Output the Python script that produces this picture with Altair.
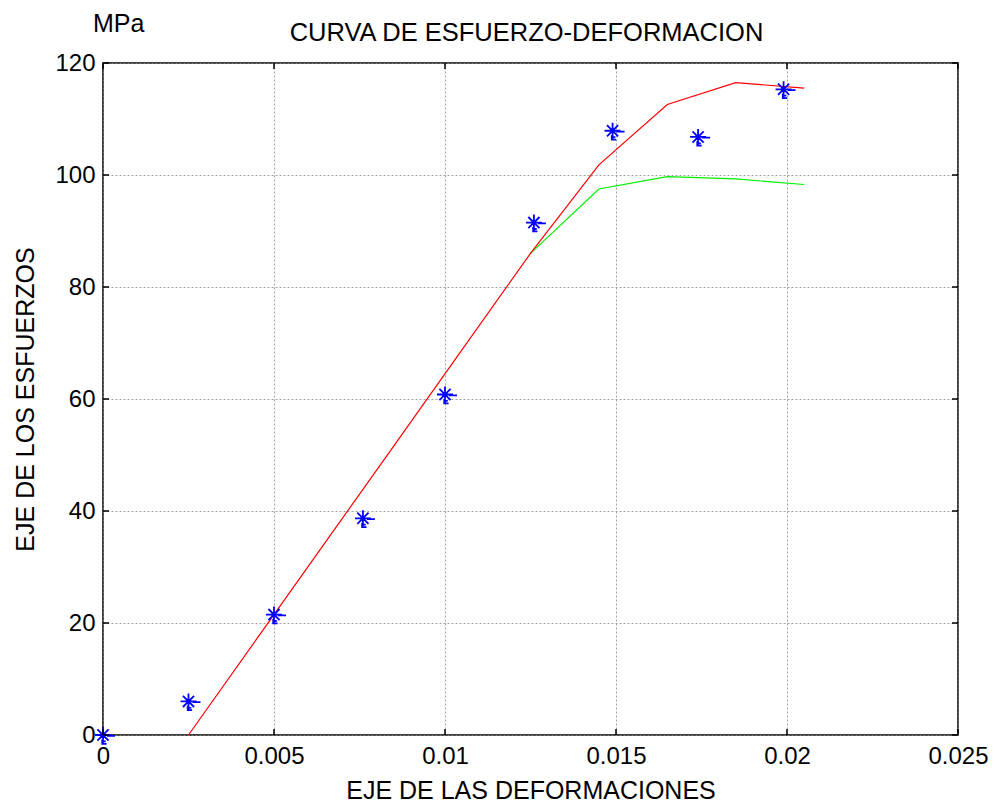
import altair as alt
import pandas as pd

# measured points (blue asterisks)
pt_strain = [0.0, 0.0025, 0.005, 0.0076, 0.01, 0.0126, 0.0149, 0.0174, 0.0199]
pt_stress = [0.0, 6.0, 21.5, 38.7, 60.8, 91.5, 107.9, 106.8, 115.3]

# red model curve
red_strain = [0.0025, 0.0045, 0.0065, 0.0085, 0.0105, 0.0125, 0.0145, 0.0165, 0.0185, 0.0205]
red_stress = [0.0, 17.2, 34.4, 51.6, 68.8, 86.0, 101.8, 112.6, 116.5, 115.5]

# green model curve
green_strain = [0.0125, 0.0145, 0.0165, 0.0185, 0.0205]
green_stress = [86.0, 97.5, 99.7, 99.3, 98.3]

x_ticks = [0, 0.005, 0.01, 0.015, 0.02, 0.025]
y_ticks = [0, 20, 40, 60, 80, 100, 120]

W, H = 855, 672
FONT = "Liberation Sans"

pts = pd.DataFrame({"x": pt_strain, "y": pt_stress})
red = pd.DataFrame({"x": red_strain, "y": red_stress})
green = pd.DataFrame({"x": green_strain, "y": green_stress})
xt = pd.DataFrame({"x": x_ticks})
yt = pd.DataFrame({"y": y_ticks})

xscale = alt.Scale(domain=[0, 0.025], nice=False, zero=False)
yscale = alt.Scale(domain=[0, 120], nice=False, zero=False)

xaxis = alt.Axis(values=x_ticks, format="~g", title="EJE DE LAS DEFORMACIONES",
                 grid=True, ticks=False, domain=False, labelPadding=9, labelFlush=False,
                 labelFont=FONT, labelFontSize=24, labelColor="black",
                 titleFont=FONT, titleFontSize=25, titleFontWeight="normal", titleColor="black",
                 gridColor="#888888", gridDash=[2, 2], gridWidth=1, gridOpacity=0.8,
                 titleY=63, titleBaseline="alphabetic")
yaxis = alt.Axis(values=y_ticks, title="EJE DE LOS ESFUERZOS",
                 grid=True, ticks=False, domain=False, labelPadding=8, labelFlush=False,
                 labelFont=FONT, labelFontSize=24, labelColor="black",
                 titleFont=FONT, titleFontSize=25, titleFontWeight="normal", titleColor="black",
                 gridColor="#888888", gridDash=[2, 2], gridWidth=1, gridOpacity=0.8,
                 titleX=-70, titleY=H / 2, titleBaseline="alphabetic", titleAlign="center")

base_x = alt.X("x:Q", scale=xscale, axis=xaxis)
base_y = alt.Y("y:Q", scale=yscale, axis=yaxis)

green_line = alt.Chart(green).mark_line(color="#00ee00", strokeWidth=1.2).encode(x=base_x, y=base_y)
red_line = alt.Chart(red).mark_line(color="#ff0000", strokeWidth=1.2).encode(
    x=alt.X("x:Q", scale=xscale), y=alt.Y("y:Q", scale=yscale))

star_path = ("M-1,0L1,0M0,-1L0,1M-0.7,-0.7L0.7,0.7M-0.7,0.7L0.7,-0.7"
             "M0.5,0.1L1.5,0.1M-0.1,0.55L-0.1,1.1L0.45,1.1M-0.1,0.8L0.35,0.8")
stars = alt.Chart(pts).mark_point(shape=star_path, size=256, filled=False,
                                  color="#0000ff", strokeWidth=1.8, opacity=1).encode(
    x=alt.X("x:Q", scale=xscale), y=alt.Y("y:Q", scale=yscale))

tick_len = 6
xt_bot = alt.Chart(xt).mark_rule(color="black", strokeWidth=1.5).encode(
    x=alt.X("x:Q", scale=xscale), y=alt.value(H), y2=alt.value(H - tick_len))
xt_top = alt.Chart(xt).mark_rule(color="black", strokeWidth=1.5).encode(
    x=alt.X("x:Q", scale=xscale), y=alt.value(0), y2=alt.value(tick_len))
yt_left = alt.Chart(yt).mark_rule(color="black", strokeWidth=1.5).encode(
    y=alt.Y("y:Q", scale=yscale), x=alt.value(0), x2=alt.value(tick_len))
yt_right = alt.Chart(yt).mark_rule(color="black", strokeWidth=1.5).encode(
    y=alt.Y("y:Q", scale=yscale), x=alt.value(W), x2=alt.value(W - tick_len))

mpa = alt.Chart(pd.DataFrame({"t": ["MPa"]})).mark_text(
    font=FONT, fontSize=25, align="left", baseline="alphabetic", color="black").encode(
    text="t:N", x=alt.value(-10), y=alt.value(-31))

title = alt.Chart(pd.DataFrame({"t": ["CURVA DE ESFUERZO-DEFORMACION"]})).mark_text(
    font=FONT, fontSize=25.5, align="center", baseline="alphabetic", color="black").encode(
    text="t:N", x=alt.value(W / 2 - 4), y=alt.value(-22))

chart = alt.layer(green_line, red_line, stars, xt_bot, xt_top, yt_left, yt_right, mpa, title).properties(
    width=W, height=H,
    background="white",
    autosize=alt.AutoSizeParams(type="none"),
    padding={"left": 95, "top": 55, "right": 30, "bottom": 68},
).configure_view(
    stroke="black", strokeWidth=1.5
)

chart.save("out.html", embed_options={"renderer": "svg", "actions": False})
